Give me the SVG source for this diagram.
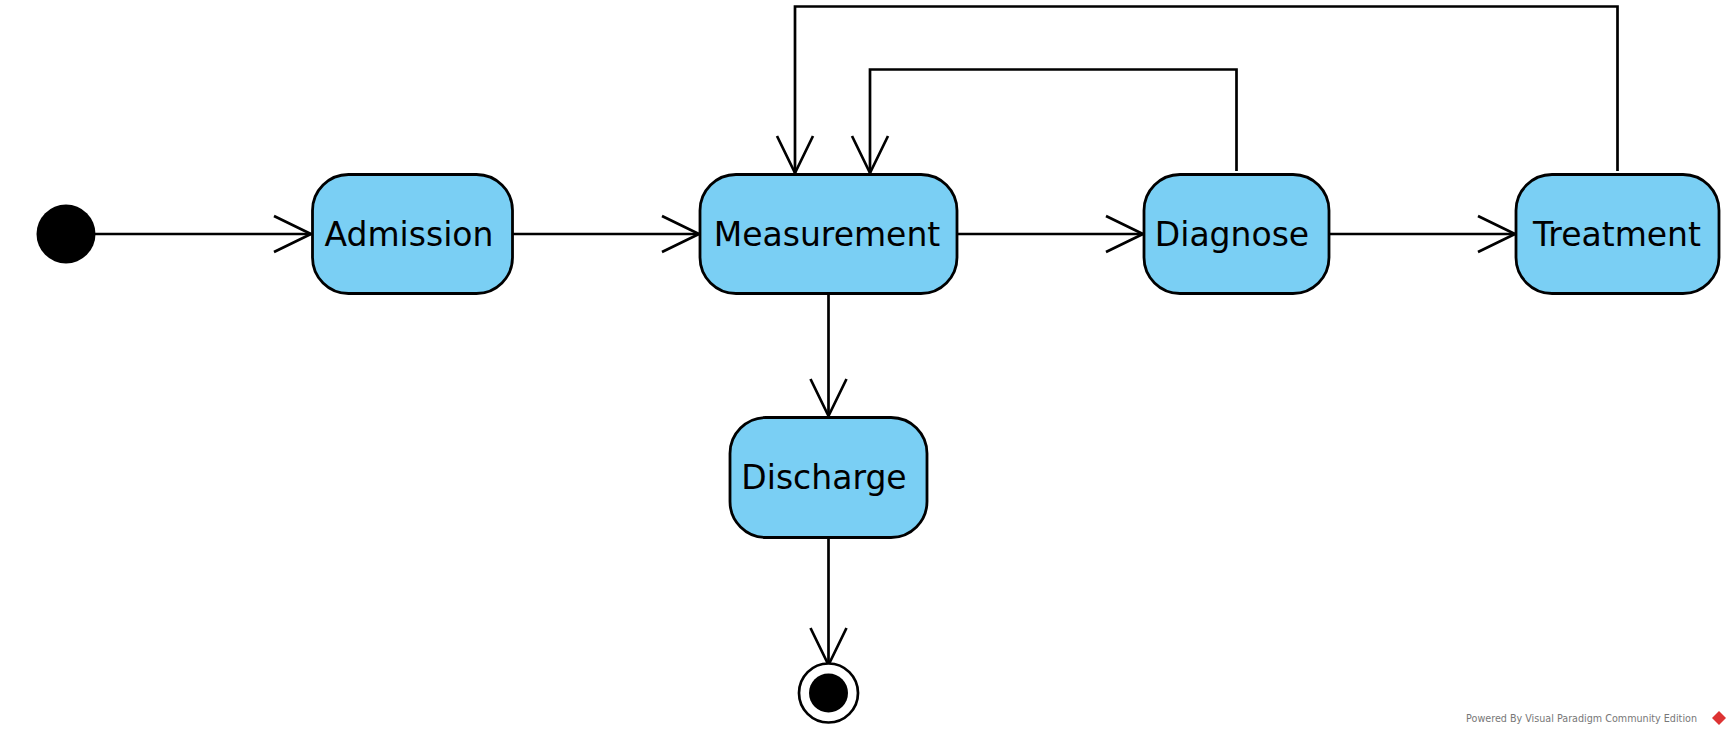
<svg xmlns="http://www.w3.org/2000/svg" width="1731" height="735" viewBox="0 0 1731 735">
<style>
.state{fill:#7acff4;stroke:#000;stroke-width:2.8}
.lbl{font-family:"DejaVu Sans",sans-serif;font-size:33px;fill:#000;text-anchor:middle}
.edge{fill:none;stroke:#000;stroke-width:2.7}
</style>
<defs>
<marker id="arr" markerUnits="userSpaceOnUse" markerWidth="50" markerHeight="50" viewBox="-40 -25 50 50" refX="0" refY="0" orient="auto" overflow="visible">
<path d="M-37,-18 L0,0 L-37,18" fill="none" stroke="#000" stroke-width="2.7"/>
</marker>
</defs>
<rect width="1731" height="735" fill="#fff"/>
<g id="connectors">
<path class="edge" d="M95,234 H311" marker-end="url(#arr)"/>
<path class="edge" d="M513,234 H699" marker-end="url(#arr)"/>
<path class="edge" d="M957,234 H1143" marker-end="url(#arr)"/>
<path class="edge" d="M1329,234 H1515" marker-end="url(#arr)"/>
<path class="edge" d="M828.5,294 V416" marker-end="url(#arr)"/>
<path class="edge" d="M828.5,538 V665" marker-end="url(#arr)"/>
<path class="edge" d="M1236.5,171 V69.5 H870 V173" marker-end="url(#arr)"/>
<path class="edge" d="M1617.5,171 V6.5 H795 V173" marker-end="url(#arr)"/>
</g>
<g id="initial"><circle cx="66" cy="234" r="29.5" fill="#000"/></g>
<g id="admission"><rect class="state" x="312.5" y="174.5" width="200" height="119" rx="36"/><text class="lbl" x="409" y="246">Admission</text></g>
<g id="measurement"><rect class="state" x="700" y="174.5" width="257" height="119" rx="36"/><text class="lbl" x="827" y="246">Measurement</text></g>
<g id="diagnose"><rect class="state" x="1144" y="174.5" width="185" height="119" rx="36"/><text class="lbl" x="1232" y="246">Diagnose</text></g>
<g id="treatment"><rect class="state" x="1516" y="174.5" width="203" height="119" rx="36"/><text class="lbl" x="1617" y="246">Treatment</text></g>
<g id="discharge"><rect class="state" x="730" y="417.5" width="197" height="120" rx="36"/><text class="lbl" x="824" y="489">Discharge</text></g>
<g id="final"><circle cx="828.5" cy="693" r="29.5" fill="#fff" stroke="#000" stroke-width="2.7"/><circle cx="828.5" cy="693" r="19.5" fill="#000"/></g>
<g id="watermark">
<text x="1697" y="722" font-family="DejaVu Sans,sans-serif" font-size="9.6" fill="#777" text-anchor="end">Powered By Visual Paradigm Community Edition</text>
<polygon points="1719,711 1726,718 1719,725 1712,718" fill="#d33"/>
</g>
</svg>
